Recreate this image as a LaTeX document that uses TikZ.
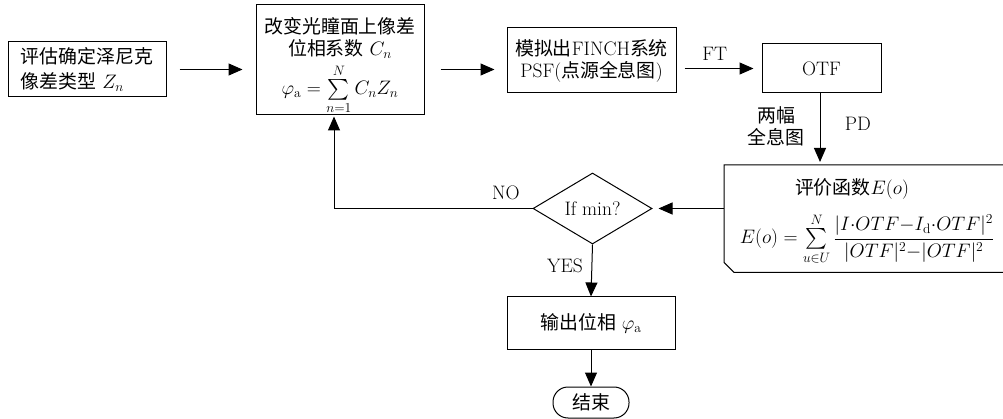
\RequirePackage{fix-cm}
\documentclass[tikz,border=0pt]{standalone}
\usepackage{amsmath}
\usepackage{exscale}
\usepackage{fontspec}
\newfontfamily\cjk{Noto Sans CJK SC}[Scale=0.97]
\newcommand{\zh}[1]{{\cjk #1}}
\usetikzlibrary{arrows.meta,shapes.geometric,calc}
\tikzset{
  box/.style={draw,line width=1pt,inner sep=0pt,align=center},
  arr/.style={line width=1pt,-{Triangle[length=14pt,width=12pt]}},
  lbl/.style={inner sep=0pt,align=center}
}
\begin{document}
\begin{tikzpicture}[x=1pt,y=-1pt,font=\fontsize{19.5}{25}\selectfont]
\useasboundingbox (0,0) rectangle (1003,419);
\node[box,align=left,minimum width=158pt,minimum height=55pt] (b1) at (87,69.5)
  {\zh{评估确定泽尼克}\\\zh{像差类型} $Z_n$};
\node[box,minimum width=168pt,minimum height=110pt] (b2) at (340,60) {};
\node[lbl,font=\fontsize{19.5}{22}\selectfont] (b2t) at (340,38) {\zh{改变光瞳面上像差}\\\zh{位相系数} $C_n$};
\node[lbl] (b2f) at (340,89.5) {$\varphi_\mathrm{a}=\sum\limits_{n=1}^{N}C_nZ_n$};
\node[box,minimum width=169pt,minimum height=65pt,font=\fontsize{19.5}{22}\selectfont] (b3) at (591.5,60.5)
  {\zh{模拟出}FINCH\zh{系统}\\PSF(\zh{点源全息图})};
\node[box,minimum width=119pt,minimum height=49pt] (otf) at (821.5,68.5) {OTF};
\node[inner sep=0pt,minimum width=300pt,minimum height=107pt,anchor=north west] (ebox) at (724,165) {};
\draw[line width=1pt] ($(ebox.south west)+(0,-10)$) -- (ebox.north west) -- (ebox.north east)
  -- (ebox.south east) -- ($(ebox.south west)+(10,0)$) -- cycle;
\node[lbl] (etitle) at (852,189) {\zh{评价函数}$E(o)$};
\node[lbl] (eform) at (867,239)
  {$E(o)={}\!\sum\limits_{u\in U}^{N}\dfrac{|I{\cdot}OTF{-}I_\mathrm{d}{\cdot}OTF|^2}{|OTF|^2{-}|OTF|^2}$};
\node[draw,diamond,line width=1pt,inner sep=0pt,aspect=1.68,minimum width=119pt,minimum height=71pt] (dia) at (592.5,208.5) {If min?};
\node[box,minimum width=168pt,minimum height=52pt] (out) at (591,323) {\zh{输出位相} $\varphi_\mathrm{a}$};
\node[draw,line width=1pt,rounded corners=15pt,inner sep=0pt,minimum width=76pt,minimum height=31pt] (end) at (591,402.5) {\zh{结束}};
\coordinate (turn) at (334,208.5);
\coordinate (pdtop) at (820,93);
% connectors
\draw[arr,shorten <=13pt,shorten >=13pt] (b1.east) -- (b1.east -| b2.west);
\draw[arr,shorten <=16pt,shorten >=12pt] (b2.east |- b1.east) -- (b1.east -| b3.west);
\draw[arr,shorten <=8pt,shorten >=8pt] (b3.east |- otf.west) -- (otf.west)
  node[lbl,pos=0.45,above=7pt] (ft) {FT};
\draw[arr,shorten >=3pt] (pdtop) -- (pdtop |- ebox.north);
\node[lbl] (pd) at (858,124) {PD};
\node[lbl,font=\fontsize{19.5}{22}\selectfont] (two) at (776,126) {\zh{两幅}\\\zh{全息图}};
\draw[arr,shorten >=6pt] (ebox.west |- dia.east) -- (dia.east);
\draw[arr,shorten >=1pt] (dia.west) -- (turn) -- (turn |- b2.south);
\node[lbl] (no) at (506,193) {NO};
\draw[arr] (dia.south) -- (out.north);
\node[lbl] (yes) at (565,266) {YES};
\draw[arr] (out.south) -- (end.north);
\end{tikzpicture}
\end{document}
